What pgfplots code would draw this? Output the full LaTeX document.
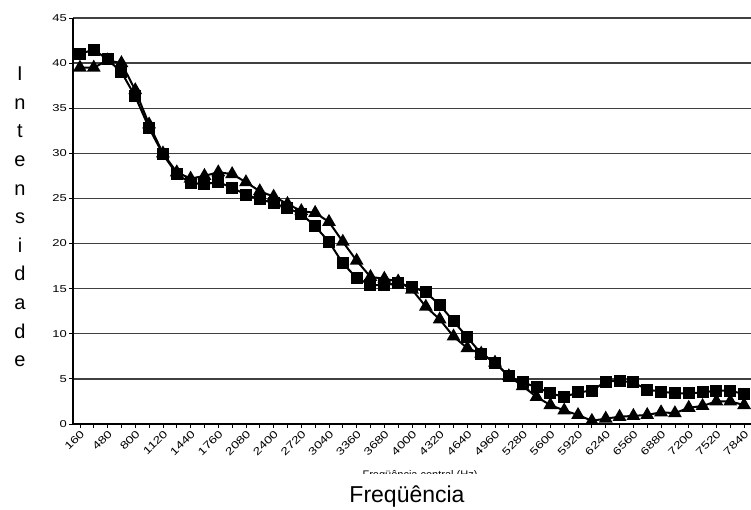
\documentclass[border=0pt]{standalone}
\usepackage{fontspec}
\setmainfont{Liberation Sans}
\newfontfamily\tickfont[FakeStretch=1.3]{Liberation Sans}
\usepackage{pgfplots}
\pgfplotsset{compat=1.18}
\usepackage{pgfplotstable}

% intensidade por banda de frequencia (160 Hz ... 7840 Hz, passo 160 Hz)
\pgfplotstableread{
i v
0 41.0
1 41.5
2 40.4
3 39.0
4 36.3
5 32.8
6 29.9
7 27.7
8 26.7
9 26.6
10 26.8
11 26.2
12 25.4
13 24.9
14 24.5
15 23.9
16 23.3
17 21.9
18 20.2
19 17.8
20 16.2
21 15.4
22 15.4
23 15.6
24 15.2
25 14.6
26 13.2
27 11.4
28 9.6
29 7.8
30 6.8
31 5.3
32 4.6
33 4.1
34 3.4
35 3.0
36 3.5
37 3.7
38 4.7
39 4.8
40 4.6
41 3.8
42 3.6
43 3.4
44 3.4
45 3.5
46 3.7
47 3.7
48 3.3
}\quadrados

\pgfplotstableread{
i v
0 39.5
1 39.5
2 40.3
3 40.0
4 37.0
5 33.2
6 30.0
7 27.9
8 27.2
9 27.5
10 27.9
11 27.7
12 26.8
13 25.8
14 25.2
15 24.4
16 23.6
17 23.4
18 22.4
19 20.2
20 18.1
21 16.3
22 16.1
23 15.8
24 14.9
25 13.0
26 11.6
27 9.7
28 8.4
29 7.8
30 6.8
31 5.3
32 4.2
33 3.0
34 2.1
35 1.5
36 1.0
37 0.35
38 0.6
39 0.8
40 0.9
41 1.0
42 1.3
43 1.2
44 1.8
45 2.0
46 2.5
47 2.5
48 2.1
}\triangulos

\begin{document}
\begin{tikzpicture}
\path[use as bounding box] (0pt,0pt) rectangle (751pt,510pt);
\begin{axis}[
    at={(73pt,86pt)}, anchor=south west,
    scale only axis,
    width=678pt, height=406pt,
    xmin=-0.5, xmax=48.5,
    ymin=0, ymax=45,
    axis lines=left,
    axis line style={-, line width=2.2pt, black},
    xtick={0,2,...,48},
    xticklabels={160,480,800,1120,1440,1760,2080,2400,2720,3040,3360,3680,4000,4320,4640,4960,5280,5600,5920,6240,6560,6880,7200,7520,7840},
    minor xtick={1,3,...,47},
    ytick={0,5,...,45},
    ymajorgrids,
    grid style={black!75, line width=1.3pt},
    tick align=outside,
    major tick length=4pt,
    minor tick length=4pt,
    tick style={black, line width=0.8pt},
    /pgf/number format/assume math mode=true,
    yticklabel style={font=\tickfont\fontsize{10}{10}\selectfont, inner sep=2pt},
    xticklabel style={rotate=45, anchor=north east, font=\tickfont\fontsize{10.5}{10.5}\selectfont, inner sep=1pt},
    clip=false,
]
\addplot[black, line width=2pt, mark=triangle*, mark size=6pt, mark options={solid}]
    table[x=i, y=v] {\triangulos};
\addplot[black, line width=2pt, mark=square*, mark size=5pt, mark options={solid}]
    table[x=i, y=v] {\quadrados};
\end{axis}
% rotulo do eixo y, letras empilhadas
\node[align=center, font=\fontsize{20}{28.6}\selectfont, inner sep=0pt] at (20pt,293pt)
    {I\\n\\t\\e\\n\\s\\i\\d\\a\\d\\e};
% titulo original do eixo x, cortado
\begin{scope}
\clip (300pt,36pt) rectangle (560pt,40pt);
\node[anchor=north, font=\fontsize{11}{11}\selectfont, inner sep=0pt] at (420pt,39.5pt) {Freqüência central (Hz)};
\end{scope}
\node[anchor=base, font=\fontsize{23}{23}\selectfont, inner sep=0pt] at (407pt,7pt) {Freqüência};
\end{tikzpicture}
\end{document}
